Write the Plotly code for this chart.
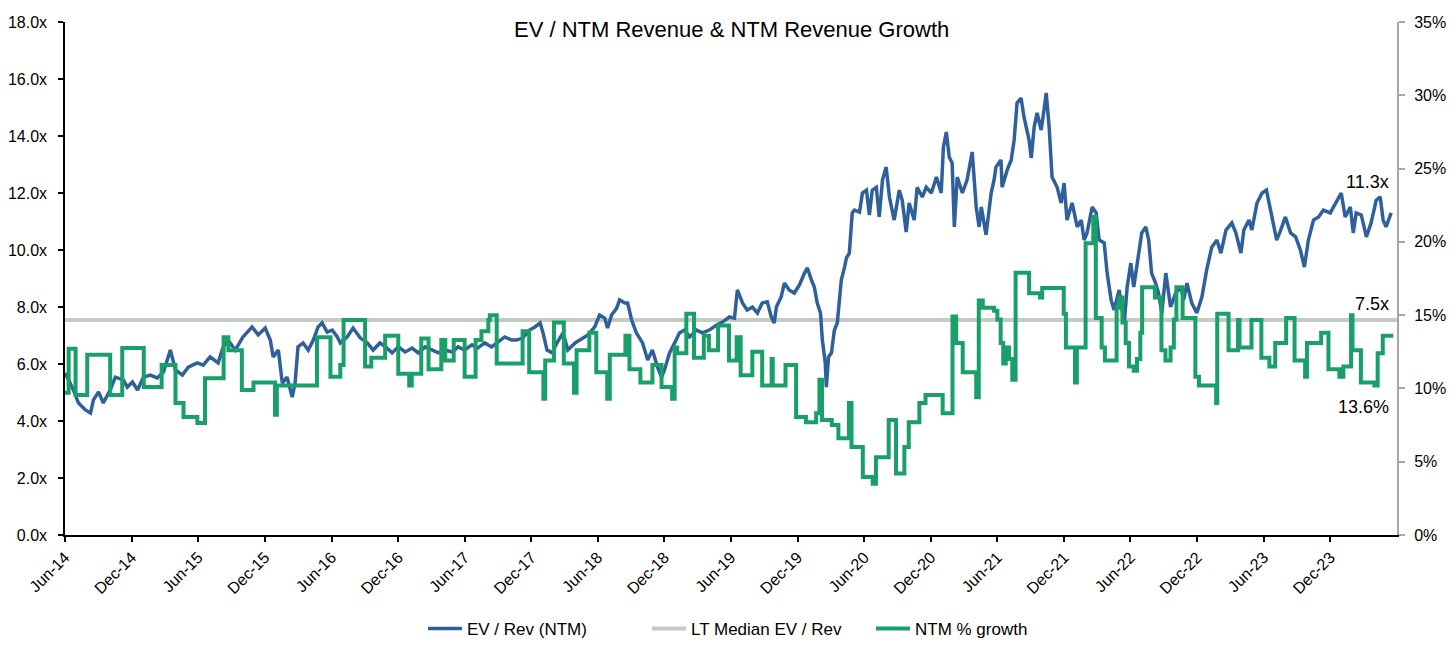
import plotly.graph_objects as go

# ---------------- data ----------------
ev_dates = [
"2014-06-02","2014-06-24","2014-07-08","2014-07-27","2014-08-10","2014-08-18","2014-09-01","2014-09-14",
"2014-10-03","2014-10-17","2014-11-08","2014-11-19","2014-12-03","2014-12-17","2015-01-02","2015-01-21",
"2015-02-09","2015-02-26","2015-03-17","2015-03-31","2015-04-19","2015-05-05","2015-05-30","2015-06-15",
"2015-07-04","2015-07-26","2015-08-09","2015-08-22","2015-09-11","2015-10-02","2015-10-27","2015-11-13",
"2015-12-02","2015-12-16","2015-12-24","2016-01-07","2016-01-18","2016-01-31","2016-02-14","2016-02-22",
"2016-03-01","2016-03-15","2016-03-29","2016-04-12","2016-04-25","2016-05-06","2016-05-20","2016-06-03",
"2016-06-17","2016-06-25","2016-07-14","2016-07-30","2016-08-19","2016-09-07","2016-09-23","2016-10-12",
"2016-10-31","2016-11-14","2016-12-01","2016-12-20","2017-01-08","2017-01-25","2017-02-13","2017-03-04",
"2017-03-21","2017-04-09","2017-04-28","2017-05-14","2017-06-01","2017-06-21","2017-07-07","2017-07-26",
"2017-08-14","2017-08-31","2017-09-19","2017-10-08","2017-10-21","2017-11-07","2017-11-26","2017-12-11",
"2017-12-25","2018-01-02","2018-01-13","2018-01-27","2018-02-09","2018-02-26","2018-03-11","2018-03-31",
"2018-04-19","2018-05-05","2018-05-24","2018-06-06","2018-06-20","2018-06-28","2018-07-09","2018-07-23",
"2018-07-31","2018-08-14","2018-08-22","2018-09-02","2018-09-15","2018-10-02","2018-10-16","2018-10-29",
"2018-11-12","2018-11-23","2018-12-01","2018-12-15","2018-12-29","2019-01-11","2019-01-25","2019-02-08",
"2019-02-27","2019-03-15","2019-04-03","2019-04-23","2019-05-09","2019-05-28","2019-06-11","2019-06-19",
"2019-07-03","2019-07-16","2019-07-30","2019-08-13","2019-08-26","2019-09-09","2019-09-20","2019-09-28",
"2019-10-04","2019-10-17","2019-10-26","2019-11-08","2019-11-22","2019-12-06","2019-12-20","2019-12-28",
"2020-01-08","2020-01-16","2020-01-24","2020-02-02","2020-02-07","2020-02-15","2020-02-18","2020-02-24",
"2020-03-03","2020-03-11","2020-03-19","2020-03-25","2020-03-30","2020-04-08","2020-04-13","2020-04-21",
"2020-04-27","2020-04-29","2020-05-05","2020-05-19","2020-05-27","2020-06-07","2020-06-15","2020-06-23",
"2020-07-04","2020-07-12","2020-07-21","2020-07-31","2020-08-09","2020-08-17","2020-08-22","2020-09-05",
"2020-09-13","2020-09-24","2020-10-02","2020-10-16","2020-10-24","2020-11-07","2020-11-18","2020-12-02",
"2020-12-16","2020-12-29","2021-01-04","2021-01-12","2021-01-20","2021-01-28","2021-02-03","2021-02-11",
"2021-02-25","2021-03-10","2021-03-24","2021-04-04","2021-04-12","2021-04-18","2021-05-01","2021-05-15",
"2021-05-23","2021-05-28","2021-06-11","2021-06-14","2021-06-28","2021-07-09","2021-07-17","2021-07-25",
"2021-08-05","2021-08-13","2021-08-27","2021-09-02","2021-09-10","2021-09-18","2021-09-29","2021-10-07",
"2021-10-13","2021-10-21","2021-10-29","2021-11-12","2021-11-23","2021-12-01","2021-12-09","2021-12-23",
"2022-01-06","2022-01-17","2022-01-25","2022-02-02","2022-02-16","2022-02-27","2022-03-07","2022-03-21",
"2022-03-29","2022-04-09","2022-04-17","2022-05-01","2022-05-15","2022-05-23","2022-06-02","2022-06-10",
"2022-06-24","2022-07-02","2022-07-13","2022-07-21","2022-07-29","2022-08-09","2022-08-17","2022-08-26",
"2022-09-06","2022-09-19","2022-10-03","2022-10-17","2022-10-25","2022-11-03","2022-11-16","2022-11-30",
"2022-12-14","2022-12-27","2023-01-10","2023-01-24","2023-02-04","2023-02-18","2023-03-06","2023-03-17",
"2023-03-31","2023-04-08","2023-04-22","2023-04-30","2023-05-14","2023-05-28","2023-06-09","2023-06-23",
"2023-07-07","2023-07-18","2023-07-31","2023-08-14","2023-08-28","2023-09-10","2023-09-21","2023-10-02",
"2023-10-16","2023-10-30","2023-11-12","2023-12-01","2023-12-15","2023-12-31","2024-01-11","2024-01-25",
"2024-02-02","2024-02-10","2024-02-24","2024-03-09","2024-03-22","2024-04-05","2024-04-16","2024-04-24",
"2024-05-02","2024-05-16"]
ev_values = [
5.68,5.09,4.63,4.39,4.28,4.74,5.02,4.63,
5.09,5.54,5.44,5.19,5.37,5.09,5.54,5.61,
5.51,5.72,6.49,5.79,5.61,5.89,6.04,5.96,
6.25,6.04,6.60,6.84,6.49,6.95,7.30,7.02,
7.26,6.84,6.25,6.49,5.33,5.54,4.84,5.33,
6.60,6.74,6.49,6.84,7.30,7.44,7.12,7.19,
6.95,6.74,6.95,7.26,6.91,6.74,6.49,6.74,
6.56,6.39,6.60,6.42,6.56,6.39,6.60,6.49,
6.39,6.49,6.42,6.60,6.49,6.67,6.56,6.74,
6.60,6.77,6.95,6.84,6.84,6.91,7.19,7.30,
7.44,7.09,6.49,6.39,6.74,7.09,6.49,6.74,
6.91,7.02,7.30,7.72,7.61,7.26,7.72,7.96,
8.25,8.14,8.14,7.54,7.09,6.74,6.14,6.49,
5.89,5.54,5.79,6.39,6.74,7.09,7.19,6.95,
7.19,7.09,7.19,7.37,7.47,7.65,7.61,8.60,
8.14,7.89,8.00,7.79,8.14,8.18,7.65,7.44,
8.00,8.35,8.84,8.60,8.49,8.77,9.19,9.37,
8.95,8.70,8.14,7.79,6.84,6.04,5.19,6.25,
6.39,7.19,7.44,8.25,8.95,9.40,9.72,9.89,
10.81,11.30,11.40,11.33,12.00,12.10,11.23,12.10,
12.20,11.16,12.46,12.91,11.86,11.30,11.05,12.10,
11.75,10.63,11.65,11.05,12.20,11.86,12.20,12.00,
12.56,12.00,13.61,14.14,13.26,13.05,10.81,12.56,
12.00,12.46,13.44,11.51,10.81,11.51,10.53,12.00,
12.46,12.91,13.16,12.20,12.81,13.16,13.86,15.16,
15.33,14.67,13.86,13.23,14.32,14.81,14.21,14.91,
15.51,14.32,12.56,12.20,11.65,12.35,11.05,11.65,
10.81,11.05,10.35,10.60,11.51,11.30,10.35,10.25,
9.19,8.25,7.89,8.60,7.44,8.70,9.54,8.70,
9.89,10.60,10.81,10.35,9.19,8.84,8.49,7.79,
9.19,8.00,8.49,8.70,8.25,8.84,8.14,7.79,
8.35,9.30,10.10,10.35,9.89,10.70,10.95,10.60,
9.89,10.70,11.05,10.70,11.65,12.00,12.10,11.16,
10.35,10.70,11.16,10.60,10.46,10.00,9.40,10.35,
11.05,11.16,11.40,11.30,11.65,12.00,11.16,11.51,
10.60,11.30,11.23,10.46,10.95,11.75,11.86,11.05,
10.81,11.30]

growth_dates = [
"2014-06-01","2014-06-11","2014-06-30","2014-08-01","2014-10-03","2014-11-05","2015-01-03","2015-02-21",
"2015-03-31","2015-04-22","2015-05-30","2015-06-20","2015-08-10","2015-08-23","2015-09-29","2015-10-31",
"2015-12-29","2016-01-03","2016-04-22","2016-05-29","2016-06-25","2016-07-04","2016-09-01","2016-09-18",
"2016-10-26","2016-12-01","2016-12-31","2017-01-07","2017-02-02","2017-02-22","2017-03-29","2017-04-09",
"2017-05-02","2017-06-01","2017-07-01","2017-07-17","2017-08-05","2017-08-09","2017-08-28","2017-11-07",
"2017-11-25","2018-01-03","2018-01-08","2018-02-01","2018-02-28","2018-03-28","2018-04-04","2018-05-09",
"2018-05-28","2018-06-27","2018-07-04","2018-08-16","2018-08-27","2018-09-26","2018-10-29","2018-11-23",
"2018-12-22","2018-12-29","2019-01-05","2019-01-30","2019-02-20","2019-03-19","2019-04-02","2019-04-27",
"2019-05-27","2019-06-17","2019-06-28","2019-07-30","2019-08-26","2019-09-21","2019-09-24","2019-10-29",
"2019-11-27","2019-12-24","2020-01-21","2020-01-30","2020-02-06","2020-03-04","2020-03-22","2020-04-20",
"2020-04-27","2020-05-28","2020-06-24","2020-07-03","2020-08-07","2020-08-27","2020-09-19","2020-10-01",
"2020-10-30","2020-11-16","2021-01-02","2021-01-29","2021-02-08","2021-02-26","2021-04-04","2021-04-11",
"2021-04-22","2021-05-23","2021-06-01","2021-06-10","2021-06-17","2021-06-24","2021-07-03","2021-07-12",
"2021-07-21","2021-08-27","2021-09-26","2021-10-02","2021-11-30","2021-12-06","2021-12-31","2022-01-05",
"2022-01-29","2022-02-19","2022-02-26","2022-03-14","2022-03-23","2022-04-24","2022-05-01","2022-05-10",
"2022-05-19","2022-05-28","2022-06-10","2022-06-19","2022-06-28","2022-07-03","2022-08-07","2022-08-25",
"2022-09-05","2022-09-19","2022-09-28","2022-10-05","2022-10-22","2022-11-26","2022-12-06","2023-01-22",
"2023-01-25","2023-02-25","2023-03-23","2023-03-27","2023-04-29","2023-05-26","2023-06-17","2023-07-03",
"2023-08-02","2023-08-25","2023-09-23","2023-09-28","2023-11-06","2023-11-26","2023-12-26","2024-01-06",
"2024-01-27","2024-01-31","2024-02-23","2024-03-31","2024-04-09","2024-04-23","2024-05-22"]
growth_values = [
9.7,12.7,9.55,12.3,9.55,12.76,10.1,11.6,
9.0,8.05,7.64,10.7,13.5,12.6,9.9,10.4,
8.2,10.2,13.5,10.8,11.6,14.67,11.5,12.1,
13.6,11.0,10.2,11.0,13.4,11.3,13.3,11.9,
13.3,10.8,13.3,13.9,14.67,15.0,11.7,13.9,
11.1,9.3,11.9,14.5,11.7,9.7,12.6,13.8,
11.1,9.3,12.3,13.6,11.3,10.4,11.6,10.1,
9.3,12.8,12.4,15.1,12.1,13.6,12.6,14.3,
11.9,13.5,10.9,12.5,10.2,12.0,10.2,11.6,
8.05,7.7,8.3,10.6,7.85,7.5,6.6,9.0,
6.0,3.96,3.5,5.3,7.85,4.2,6.0,7.7,
9.0,9.55,8.3,14.9,13.1,11.1,9.4,16.0,
15.5,15.3,14.7,13.1,11.7,12.8,12.0,10.6,
17.9,16.5,16.2,16.85,15.1,12.8,10.4,12.8,
19.9,21.7,14.8,12.8,11.9,15.5,16.2,14.5,
13.1,11.5,11.2,12.0,13.8,16.9,16.2,12.6,
11.9,12.8,14.7,16.9,14.8,10.8,10.2,9.0,
15.1,12.6,14.67,12.8,14.67,12.1,11.5,13.1,
14.8,11.9,10.8,13.1,13.8,11.3,10.8,11.5,
15.0,12.6,10.4,10.2,12.4,13.6,13.6]

LT_MEDIAN = 7.54
X_START = "2014-06-01"
X_END = "2024-06-01"

tick_dates = ["2014-06-01","2014-12-01","2015-06-01","2015-12-01","2016-06-01","2016-12-01",
              "2017-06-01","2017-12-01","2018-06-01","2018-12-01","2019-06-01","2019-12-01",
              "2020-06-01","2020-12-01","2021-06-01","2021-12-01","2022-06-01","2022-12-01",
              "2023-06-01","2023-12-01"]
tick_labels = ["Jun-14","Dec-14","Jun-15","Dec-15","Jun-16","Dec-16","Jun-17","Dec-17",
               "Jun-18","Dec-18","Jun-19","Dec-19","Jun-20","Dec-20","Jun-21","Dec-21",
               "Jun-22","Dec-22","Jun-23","Dec-23"]

TITLE = "EV / NTM Revenue & NTM Revenue Growth"

# ---------------- figure ----------------
FONT = "Arial, 'Liberation Sans', sans-serif"
BLUE = "#2F609B"
GREEN = "#18A068"
GREY = "#C4CCC1"

fig = go.Figure()
fig.add_trace(go.Scatter(x=[X_START, X_END], y=[LT_MEDIAN, LT_MEDIAN], mode="lines",
                         name="LT Median EV / Rev", line=dict(color=GREY, width=4),
                         legendrank=2, hoverinfo="skip"))
fig.add_trace(go.Scatter(x=ev_dates, y=ev_values, mode="lines", name="EV / Rev (NTM)",
                         line=dict(color=BLUE, width=3.5), legendrank=1))
fig.add_trace(go.Scatter(x=growth_dates, y=growth_values, mode="lines", name="NTM % growth",
                         yaxis="y2", line=dict(color=GREEN, width=4, shape="hv"),
                         legendrank=3))

# page body adds an 8px margin, so the figure is sized 1440x642
fig.update_layout(
    width=1440, height=642,
    margin=dict(l=57, r=51, t=14, b=115, autoexpand=False),
    paper_bgcolor="white", plot_bgcolor="white",
    font=dict(family=FONT, size=16, color="#000000"),
    showlegend=True,
    legend=dict(orientation="h", x=0.521, xanchor="center", y=-0.183, yanchor="middle",
                font=dict(size=17), bgcolor="rgba(0,0,0,0)", entrywidth=175,
                itemwidth=34),
    xaxis=dict(type="date", range=[X_START, X_END], tickmode="array",
               tickvals=tick_dates, ticktext=tick_labels, tickangle=-45,
               showline=True, linecolor="#000000", linewidth=1.5,
               ticks="outside", ticklen=5, tickcolor="#000000", tickwidth=1.5,
               showgrid=False, zeroline=False, tickfont=dict(size=16), automargin=False),
    yaxis=dict(range=[0, 18], dtick=2, tickformat=".1f", ticksuffix="x",
               showline=True, linecolor="#000000", linewidth=1.5,
               ticks="outside", ticklen=5, tickcolor="#000000", tickwidth=1.5,
               showgrid=False, zeroline=False, tickfont=dict(size=16),
               ticklabelstandoff=8, automargin=False),
    yaxis2=dict(range=[0, 35], dtick=5, ticksuffix="%", overlaying="y", side="right",
                showline=True, linecolor="#A6A6A6", linewidth=2,
                ticks="outside", ticklen=6, tickcolor="#A6A6A6", tickwidth=1.5,
                showgrid=False, zeroline=False, tickfont=dict(size=16),
                ticklabelstandoff=6, automargin=False),
)

fig.add_annotation(text=TITLE, xref="paper", yref="paper", x=0.5, y=0.986,
                   xanchor="center", yanchor="middle", showarrow=False,
                   font=dict(size=22, family=FONT))
fig.add_annotation(text=f"{ev_values[-1]:.1f}x", xref="x", yref="y", x=ev_dates[-1],
                   y=ev_values[-1] + 1.1, xanchor="right", yanchor="middle",
                   showarrow=False, font=dict(size=18))
fig.add_annotation(text=f"{LT_MEDIAN:.1f}x", xref="x", yref="y", x=ev_dates[-1],
                   y=LT_MEDIAN + 0.55, xanchor="right", yanchor="middle",
                   showarrow=False, font=dict(size=18))
fig.add_annotation(text=f"{growth_values[-1]:.1f}%", xref="x", yref="y2", x=ev_dates[-1],
                   y=growth_values[-1] - 4.9, xanchor="right", yanchor="middle",
                   showarrow=False, font=dict(size=18))

fig.write_html("out.html")
